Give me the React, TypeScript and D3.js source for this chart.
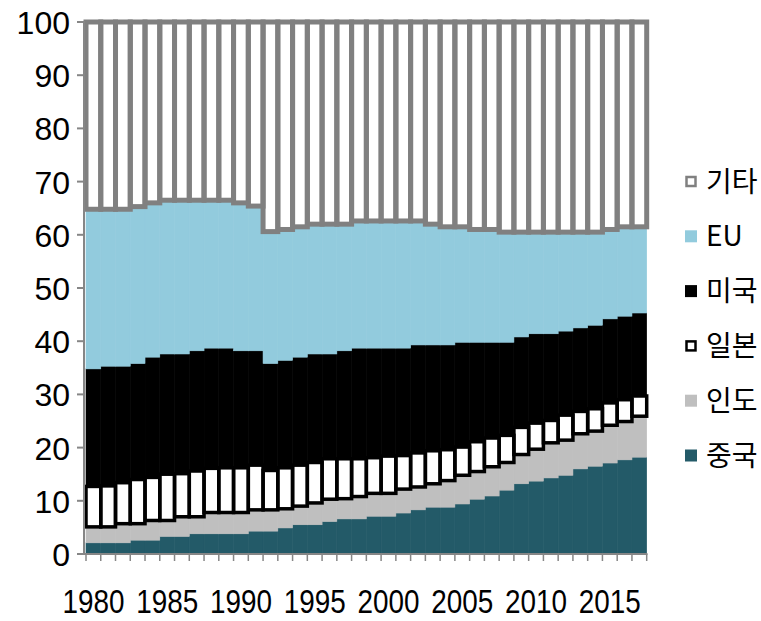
import { scaleBand, scaleLinear, stack } from "d3";

const years = [
  1980, 1981, 1982, 1983, 1984, 1985, 1986, 1987, 1988, 1989, 1990, 1991, 1992,
  1993, 1994, 1995, 1996, 1997, 1998, 1999, 2000, 2001, 2002, 2003, 2004, 2005,
  2006, 2007, 2008, 2009, 2010, 2011, 2012, 2013, 2014, 2015, 2016, 2017,
];

// shares (%) per year, bottom to top
const china = [
  2.1, 2.1, 2.1, 2.6, 2.6, 3.3, 3.3, 3.8, 3.8, 3.8, 3.8, 4.3, 4.3, 4.9, 5.5, 5.5,
  6.1, 6.6, 6.6, 7.1, 7.1, 7.7, 8.3, 8.8, 8.8, 9.4, 10.3, 10.9, 12.0, 13.2, 13.7,
  14.3, 14.8, 16.0, 16.5, 17.1, 17.7, 18.2,
];
const india = [
  3.0, 3.0, 3.6, 3.1, 3.7, 3.0, 3.7, 3.2, 4.0, 4.0, 4.0, 4.0, 4.0, 3.6, 3.5, 4.1,
  4.2, 3.8, 4.2, 4.3, 4.3, 4.5, 4.3, 4.4, 5.0, 5.4, 5.2, 5.5, 5.2, 5.5, 6.0, 6.6,
  6.6, 6.6, 6.6, 7.1, 7.2, 7.7,
];
const japan = [
  7.6, 7.7, 7.7, 8.3, 8.1, 8.7, 8.1, 8.6, 8.3, 8.4, 8.4, 8.4, 7.4, 7.7, 7.7, 7.6,
  7.6, 7.5, 7.1, 6.7, 7.0, 6.3, 6.4, 6.2, 5.8, 5.3, 5.6, 5.4, 5.1, 5.1, 4.9, 4.2,
  4.7, 4.2, 4.2, 4.2, 4.1, 3.8,
];
const usa = [
  22.1, 22.5, 21.9, 21.8, 22.6, 22.6, 22.5, 22.6, 22.6, 22.5, 22.0, 21.5, 20.1,
  20.2, 20.3, 20.4, 19.7, 20.3, 20.8, 20.6, 20.3, 20.2, 20.3, 19.9, 19.7, 19.7,
  18.7, 18.0, 17.5, 17.0, 16.8, 16.3, 15.8, 15.7, 15.7, 15.8, 15.7, 15.6,
];
const eu = [
  30.0, 29.5, 29.5, 29.5, 29.0, 28.9, 28.9, 28.3, 27.8, 27.8, 27.8, 27.2, 24.8,
  24.6, 24.5, 24.4, 24.4, 23.8, 23.9, 23.9, 23.9, 23.9, 23.3, 22.7, 22.2, 21.7,
  21.2, 21.2, 20.7, 19.7, 19.1, 19.1, 18.6, 18.0, 17.5, 16.8, 16.8, 16.2,
];
const others = [
  35.2, 35.2, 35.2, 34.7, 34.0, 33.5, 33.5, 33.5, 33.5, 33.5, 34.0, 34.6, 39.4,
  39.0, 38.5, 38.0, 38.0, 38.0, 37.4, 37.4, 37.4, 37.4, 37.4, 38.0, 38.5, 38.5,
  39.0, 39.0, 39.5, 39.5, 39.5, 39.5, 39.5, 39.5, 39.5, 39.0, 38.5, 38.5,
];

const keys = ["china", "india", "japan", "usa", "eu", "others"];
const names = ["중국", "인도", "일본", "미국", "EU", "기타"];
const yTicks = [0, 10, 20, 30, 40, 50, 60, 70, 80, 90, 100];
const xLabels = [1980, 1985, 1990, 1995, 2000, 2005, 2010, 2015];

const fills: Record<string, string> = {
  china: "#235a68",
  india: "#bfbfbf",
  japan: "#ffffff",
  usa: "#000000",
  eu: "#92cbdd",
  others: "#ffffff",
};
const strokes: Record<string, string> = {
  japan: "#000000",
  others: "#808080",
};
const strokeW: Record<string, number> = { japan: 3.5, others: 5 };

const rows = years.map((y, i) => ({
  year: y,
  china: china[i],
  india: india[i],
  japan: japan[i],
  usa: usa[i],
  eu: eu[i],
  others: others[i],
}));

const series = stack<any>().keys(keys)(rows);

const x = scaleBand<number>().domain(years).range([86, 646.7]).padding(0);
const y = scaleLinear().domain([0, 100]).range([554, 22]);

const axisColor = "#868686";

export default function App() {
  const bw = x.bandwidth();
  return (
    <div style={{ position: "absolute", left: 0, top: 0 }}>
      <svg width={761} height={621} style={{ display: "block" }}>
        <rect width={761} height={621} fill="#fff" />
        {series.map((s) => (
          <g key={s.key}>
            {s.map((d, i) => (
              <rect
                key={i}
                x={x(years[i])}
                y={y(d[1])}
                width={bw}
                height={y(d[0]) - y(d[1])}
                fill={fills[s.key]}
                stroke={fills[s.key]}
                strokeWidth={strokes[s.key] ? 0 : 0.6}
              />
            ))}
            {strokes[s.key] &&
              s.map((d, i) => (
                <rect
                  key={"o" + i}
                  x={x(years[i])}
                  y={y(d[1])}
                  width={bw}
                  height={y(d[0]) - y(d[1])}
                  fill="none"
                  stroke={strokes[s.key]}
                  strokeWidth={strokeW[s.key]}
                />
              ))}
          </g>
        ))}

        {/* y axis */}
        <line x1={84} x2={84} y1={y(100) - 1} y2={y(0) + 1} stroke={axisColor} strokeWidth={2} />
        {yTicks.map((t) => (
          <g key={t}>
            <line x1={77} x2={84} y1={y(t)} y2={y(t)} stroke={axisColor} strokeWidth={2} />
            <text
              x={70}
              y={y(t) + 12}
              textAnchor="end"
              fontFamily="Liberation Sans"
              fontSize={32}
              fill="#000"
            >
              {t}
            </text>
          </g>
        ))}

        {/* x axis */}
        <line x1={84} x2={647.5} y1={y(0)} y2={y(0)} stroke={axisColor} strokeWidth={2} />
        {years.map((yr) => (
          <line
            key={yr}
            x1={x(yr)}
            x2={x(yr)}
            y1={y(0)}
            y2={y(0) + 7}
            stroke={axisColor}
            strokeWidth={1.5}
          />
        ))}
        <line
          x1={646.7}
          x2={646.7}
          y1={y(0)}
          y2={y(0) + 7}
          stroke={axisColor}
          strokeWidth={1.5}
        />
        {xLabels.map((yr) => (
          <text
            key={yr}
            transform={`translate(${(x(yr) ?? 0) + bw / 2},613) scale(0.82,1)`}
            textAnchor="middle"
            fontFamily="Liberation Sans"
            fontSize={34}
            fill="#000"
          >
            {yr}
          </text>
        ))}

        {/* legend, top to bottom */}
        {keys
          .slice()
          .reverse()
          .map((k, i) => {
            const cy = 181.5 + i * 54.8;
            const outlined = !!strokes[k];
            return (
              <g key={k}>
                <rect
                  x={outlined ? 686.5 : 685}
                  y={cy - (outlined ? 4.5 : 6)}
                  width={outlined ? 9 : 12}
                  height={outlined ? 9 : 12}
                  fill={fills[k]}
                  stroke={outlined ? strokes[k] : "none"}
                  strokeWidth={outlined ? 2.5 : 0}
                />
                <text
                  x={706}
                  y={cy + 10}
                  fontFamily="Noto Sans CJK KR"
                  fontSize={28}
                  fill="#000"
                >
                  {names[keys.indexOf(k)]}
                </text>
              </g>
            );
          })}
      </svg>
    </div>
  );
}
